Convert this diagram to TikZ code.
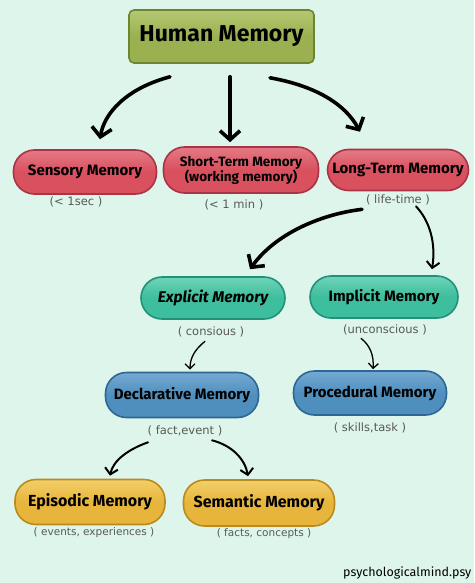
\documentclass[tikz,border=0pt]{standalone}
\usepackage{fontspec}
\setmainfont{Fira Sans}
\newfontfamily\notefont{DejaVu Sans}
\usetikzlibrary{arrows.meta}
\definecolor{bgc}{HTML}{DDF5EA}
\definecolor{redf}{HTML}{D9505F}\definecolor{redl}{HTML}{E57A86}\definecolor{redd}{HTML}{A93445}
\definecolor{grnf}{HTML}{9BB050}\definecolor{grnl}{HTML}{B5C873}\definecolor{grnd}{HTML}{6C8630}
\definecolor{blf}{HTML}{4F8FBE}\definecolor{bll}{HTML}{74AAD3}\definecolor{bld}{HTML}{2D6792}
\definecolor{tlf}{HTML}{3DBE9C}\definecolor{tll}{HTML}{6ED4B8}\definecolor{tld}{HTML}{23907A}
\definecolor{gdf}{HTML}{E7B53B}\definecolor{gdl}{HTML}{F2CF6A}\definecolor{gdd}{HTML}{B98A1C}
\definecolor{txg}{HTML}{595959}
\begin{document}
\begin{tikzpicture}[x=1pt,y=-1pt,
  pill/.style={rectangle,rounded corners=21pt,minimum height=44pt,line width=1.6pt,
    font=\fontsize{15}{16}\selectfont\bfseries,align=center,inner sep=2pt},
  redpill/.style={pill,draw=redd,top color=redl,bottom color=redf,middle color=redf},
  tealpill/.style={pill,draw=tld,top color=tll,bottom color=tlf,middle color=tlf},
  bluepill/.style={pill,draw=bld,top color=bll,bottom color=blf,middle color=blf},
  goldpill/.style={pill,draw=gdd,top color=gdl,bottom color=gdf,middle color=gdf},
  note/.style={font=\notefont\fontsize{11.5}{13}\selectfont,text=txg,inner sep=1pt},
  bigarrow/.style={line width=3.6pt,line cap=round,-{Straight Barb[length=9pt,width=20pt,line width=3.6pt]}},
  midarrow/.style={line width=2pt,line cap=round,-{Straight Barb[length=6pt,width=13pt,line width=2pt]}},
  smallarrow/.style={line width=1.3pt,line cap=round,-{Straight Barb[length=5pt,width=10pt,line width=1.3pt]}}
]
\fill[bgc] (0,0) rectangle (474,583);
\clip (0,0) rectangle (474,583);
\useasboundingbox (0,0) rectangle (474,583);

% top node
\node[rectangle,rounded corners=5pt,draw=grnd,line width=1.6pt,top color=grnl,bottom color=grnf,middle color=grnf,
  minimum width=185pt,minimum height=53pt,font=\fontsize{23}{24}\selectfont\bfseries] (hm) at (221.5,36.5) {Human Memory};

% level 1
\node[redpill,minimum width=143pt] (sm) at (85,172) {Sensory Memory};
\node[redpill,minimum width=155pt,minimum height=46pt,font=\fontsize{13.5}{15}\selectfont\bfseries] (st) at (241,170) {Short-Term Memory\\(working memory)};
\node[redpill,minimum width=141pt,minimum height=41pt] (lt) at (398,170) {Long-Term Memory};
\node[note] (smn) at (76,202) {(< 1sec )};
\node[note] (stn) at (234,205) {(< 1 min )};
\node[note] (ltn) at (398,200) {( life-time )};

% level 2
\node[tealpill,minimum width=144pt,minimum height=42pt,font=\fontsize{15.5}{16}\selectfont\bfseries\itshape] (ex) at (213,298) {Explicit Memory};
\node[tealpill,minimum width=148pt,minimum height=42pt] (im) at (384,297) {Implicit Memory};
\node[note] (exn) at (211,332) {( consious )};
\node[note] (imn) at (385,330) {(unconscious )};

% level 3
\node[bluepill,minimum width=153pt,minimum height=45pt] (de) at (182,395) {Declarative Memory};
\node[bluepill,minimum width=153pt,minimum height=44pt] (pr) at (370,393) {Procedural Memory};
\node[note] (den) at (185,431) {( fact,event )};
\node[note] (prn) at (370,428) {( skills,task )};

% level 4
\node[goldpill,minimum width=150pt,minimum height=45pt,font=\fontsize{16}{17}\selectfont\bfseries] (ep) at (90,502) {Episodic Memory};
\node[goldpill,minimum width=151pt,minimum height=46pt,font=\fontsize{16}{17}\selectfont\bfseries] (se) at (259,503) {Semantic Memory};
\node[note,font=\notefont\fontsize{10.5}{12}\selectfont] (epn) at (94,533) {( events, experiences )};
\node[note,font=\notefont\fontsize{10.5}{12}\selectfont] (sen) at (264,534) {( facts, concepts )};

\node[anchor=west,font=\fontsize{12.5}{13}\selectfont,inner sep=0pt] (wm) at (343,573) {psychologicalmind.psy};

% connectors
\draw[bigarrow] ([shift={(-51.5,13)}]hm.south) .. controls +(-45,12) and +(4,-25) .. ([shift={(15,-10)}]sm.north);
\draw[bigarrow] ([shift={(8.5,13)}]hm.south) -- ([shift={(-11,-4)}]st.north);
\draw[bigarrow] ([shift={(48.5,14)}]hm.south) .. controls +(45,8) and +(-15,-28) .. ([shift={(-38,-17)}]lt.north);

\draw[bigarrow] ([shift={(-36,3)}]ltn.south) .. controls +(-42,5) and +(25,-35) .. ([shift={(37,-7)}]ex.north);
\draw[midarrow] ([shift={(18,0)}]ltn.south) .. controls +(14,15) and +(4,-26) .. ([shift={(48,-6)}]im.north);

\draw[smallarrow] ([shift={(-6,3)}]exn.south) .. controls +(-10,8) and +(0,-12) .. ([shift={(8,-2)}]de.north);
\draw[smallarrow] ([shift={(-24,2)}]imn.south) .. controls +(9,7) and +(1,-14) .. ([shift={(3,-1)}]pr.north);

\draw[midarrow] ([shift={(-37,5)}]den.south) .. controls +(-20,7) and +(3,-15) .. ([shift={(20,-3)}]ep.north);
\draw[midarrow] ([shift={(27,3)}]den.south) .. controls +(20,5) and +(-3,-17) .. ([shift={(-11,-3)}]se.north);
\end{tikzpicture}
\end{document}
